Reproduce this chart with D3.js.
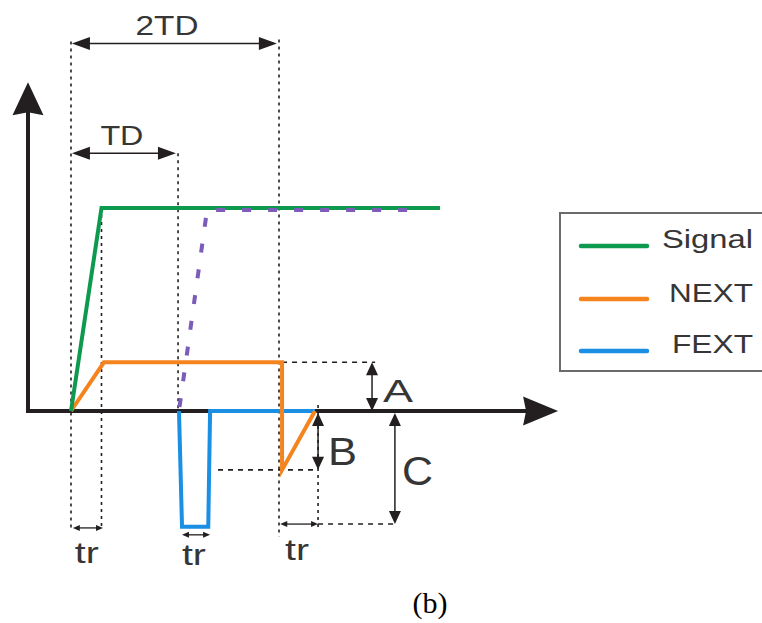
<!DOCTYPE html>
<html>
<head>
<meta charset="utf-8">
<script src="https://cdn.jsdelivr.net/npm/d3@7/dist/d3.min.js"></script>
<style>
  html, body { margin: 0; padding: 0; background: #ffffff; }
  svg { display: block; }
</style>
</head>
<body>
<svg id="chart" width="762" height="623"></svg>
<script>
// ---------------- data (time in units of tr, amplitude relative to signal) ----------------
const seriesNames = ["Signal", "NEXT", "FEXT"];
const signalPts  = [[0, 0], [1.0, 1], [12.1, 1]];
const delayedPts = [[3.54, 0], [4.46, 0.99], [11.44, 0.99]];
const nextPts    = [[0, 0], [1.08, 0.24], [6.92, 0.24], [6.92, -0.29], [8.0, 0]];
const fextPts    = [[3.54, 0], [3.64, -0.57], [4.5, -0.57], [4.56, 0], [8.0, 0]];
const markTimes  = [0, 1.0, 3.51, 6.82, 8.1];           // dotted guide times
const spanLabels = ["2TD", "TD"];
const spanEnds   = [6.75, 3.44];
const levelLabels = ["A", "B", "C"];
const levelValues = [0.24, -0.29, -0.557];
const trLabel = "tr";
const caption = "(b)";

// ---------------- scales ----------------
const x = d3.scaleLinear().domain([0, 1]).range([71, 101.5]);
const y = d3.scaleLinear().domain([0, 1]).range([411, 208]);

const svg = d3.select("#chart");
const ink = "#231f20";
const textCol = "#363636";
const colors = { Signal: "#0e9a4e", NEXT: "#f5841f", FEXT: "#1a8fe3", delayed: "#7b5cb8" };
const line = d3.line().x(d => x(d[0])).y(d => y(d[1]));

// ---------------- helpers ----------------
function arrowHead(g, tipX, tipY, dx, dy, len, half, notch) {
  const bx = tipX - dx * len, by = tipY - dy * len;
  const px = -dy, py = dx;
  const nx = tipX - dx * (len - (notch || 0)), ny = tipY - dy * (len - (notch || 0));
  g.append("path")
    .attr("d", `M${tipX},${tipY}L${bx + px * half},${by + py * half}L${nx},${ny}L${bx - px * half},${by - py * half}Z`)
    .attr("fill", ink);
}
function dimArrow(g, x1, y1, x2, y2, len, half, sw) {
  const L = Math.hypot(x2 - x1, y2 - y1);
  const dx = (x2 - x1) / L, dy = (y2 - y1) / L;
  g.append("line")
    .attr("x1", x1 + dx * len * 0.7).attr("y1", y1 + dy * len * 0.7)
    .attr("x2", x2 - dx * len * 0.7).attr("y2", y2 - dy * len * 0.7)
    .attr("stroke", ink).attr("stroke-width", sw);
  arrowHead(g, x2, y2, dx, dy, len, half, 0);
  arrowHead(g, x1, y1, -dx, -dy, len, half, 0);
}
function dotted(g, x1, y1, x2, y2, dash) {
  g.append("line").attr("x1", x1).attr("y1", y1).attr("x2", x2).attr("y2", y2)
    .attr("stroke", ink).attr("stroke-width", 1.6).attr("stroke-dasharray", dash);
}
function label(g, txt, px, py, size, len, anchor) {
  const t = g.append("text").attr("x", px).attr("y", py)
    .attr("font-family", "Liberation Sans, Arial, sans-serif")
    .attr("font-size", size).attr("fill", textCol)
    .attr("text-anchor", anchor || "start").text(txt);
  if (len) t.attr("textLength", len).attr("lengthAdjust", "spacingAndGlyphs");
  return t;
}

// ---------------- guide lines ----------------
const guides = svg.append("g");
const bottomV = -0.586;
dotted(guides, x(markTimes[0]), y(1.82), x(markTimes[0]), y(bottomV), "3,4");
dotted(guides, x(markTimes[1]), y(1.0), x(markTimes[1]), y(bottomV), "3,4");
dotted(guides, x(markTimes[2]), y(1.27), x(markTimes[2]), y(0), "3,4");
dotted(guides, x(markTimes[3]), y(1.83), x(markTimes[3]), y(-0.62), "3,4");
dotted(guides, x(markTimes[4]), y(0.03), x(markTimes[4]), y(bottomV), "3,4");
dotted(guides, x(nextPts[2][0]), y(levelValues[0]), x(9.97), y(levelValues[0]), "5,5");
dotted(guides, x(4.82), y(levelValues[1]), x(markTimes[4]), y(levelValues[1]), "5,5");
dotted(guides, x(markTimes[4]), y(levelValues[2]), x(10.62), y(levelValues[2]), "5,5");

// ---------------- axes ----------------
const axes = svg.append("g");
const x0 = x(-1.41), yTop = y(1.62), xEnd = x(15.97);
axes.append("line").attr("x1", x0).attr("y1", y(0) + 2).attr("x2", x0).attr("y2", yTop + 20)
  .attr("stroke", ink).attr("stroke-width", 4);
axes.append("line").attr("x1", x0 - 2).attr("y1", y(0)).attr("x2", xEnd - 20).attr("y2", y(0))
  .attr("stroke", ink).attr("stroke-width", 4);
arrowHead(axes, x0, yTop, 0, -1, 33, 15.5, 3);
arrowHead(axes, xEnd, y(0), 1, 0, 35, 14.5, 3);

// ---------------- series ----------------
const marks = svg.append("g").attr("fill", "none").attr("stroke-linejoin", "miter");
marks.append("path").datum(fextPts).attr("d", line).attr("stroke", colors.FEXT).attr("stroke-width", 4);
marks.append("path").datum(nextPts).attr("d", line).attr("stroke", colors.NEXT).attr("stroke-width", 4);
marks.append("path").datum(signalPts).attr("d", line).attr("stroke", colors.Signal).attr("stroke-width", 4);
marks.append("path").datum(delayedPts).attr("d", line).attr("stroke", colors.delayed)
  .attr("stroke-width", 4).attr("stroke-dasharray", "9,17").attr("stroke-dashoffset", -4);

// ---------------- dimension arrows and labels ----------------
const ann = svg.append("g");
dimArrow(ann, x(0.03), y(1.81), x(spanEnds[0]), y(1.81), 18, 6.5, 1.6);
dimArrow(ann, x(0.03), y(1.27), x(spanEnds[1]), y(1.27), 18, 6.5, 1.6);
label(ann, spanLabels[0], x(3.15), y(1.85), 28, 63, "middle");
label(ann, spanLabels[1], x(1.67), y(1.31), 28, 43, "middle");
dimArrow(ann, x(9.87), y(levelValues[0]), x(9.87), y(0), 13, 6, 1.5);
dimArrow(ann, x(markTimes[4]), y(-0.01), x(markTimes[4]), y(levelValues[1]), 13, 6, 1.5);
dimArrow(ann, x(10.62), y(-0.01), x(10.62), y(levelValues[2]), 13, 6, 1.5);
label(ann, levelLabels[0], x(10.23), y(0.044), 32, 30);
label(ann, levelLabels[1], x(8.43), y(-0.266), 38, 29);
label(ann, levelLabels[2], x(10.85), y(-0.365), 40, 31);
dimArrow(ann, x(0.06), y(-0.576), x(1.05), y(-0.576), 7, 3, 1.3);
dimArrow(ann, x(3.64), y(-0.61), x(4.56), y(-0.61), 7, 3, 1.3);
dimArrow(ann, x(6.86), y(-0.557), x(8.1), y(-0.557), 7, 3, 1.3);
label(ann, trLabel, x(0.52), y(-0.749), 29, 24, "middle");
label(ann, trLabel, x(4.03), y(-0.759), 29, 24, "middle");
label(ann, trLabel, x(7.41), y(-0.734), 29, 24, "middle");

// ---------------- legend ----------------
const leg = svg.append("g");
leg.append("rect").attr("x", 560).attr("y", 213).attr("width", 220).attr("height", 158)
  .attr("fill", "#fff").attr("stroke", "#6b6b6b").attr("stroke-width", 2);
const legY = [246, 299, 351];
const legText = [[662, 248, 91], [669, 302, 84], [672, 353, 81]];
seriesNames.forEach((n, i) => {
  leg.append("line").attr("x1", 581).attr("x2", 647).attr("y1", legY[i]).attr("y2", legY[i])
    .attr("stroke", colors[n]).attr("stroke-width", 4.5).attr("stroke-linecap", "round");
  label(leg, n, legText[i][0], legText[i][1], 26, legText[i][2]);
});

// ---------------- caption ----------------
svg.append("text").attr("x", 430).attr("y", 613)
  .attr("font-family", "Liberation Serif, Times New Roman, serif")
  .attr("font-size", 30).attr("fill", "#000").attr("text-anchor", "middle").text(caption);
</script>
</body>
</html>
